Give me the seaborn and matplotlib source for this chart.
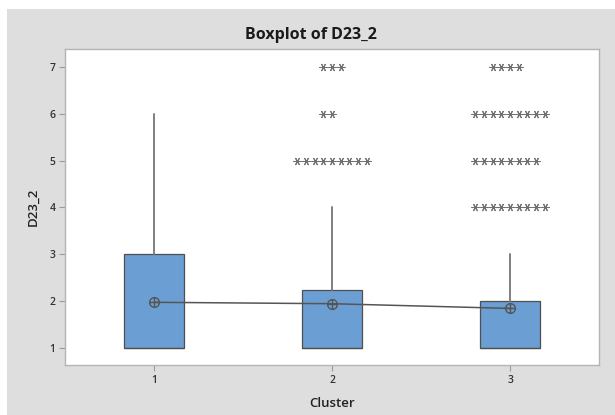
import numpy as np
import pandas as pd
import matplotlib
matplotlib.use("Agg")
import matplotlib.pyplot as plt
from matplotlib.patches import Rectangle
from matplotlib.path import Path
import seaborn as sns

# Summary statistics of D23_2 per cluster
clusters = ["1", "2", "3"]
q1 = [1, 1, 1]
medians = [1, 1, 1]
q3 = [3, 2.25, 2]
whisker_low = [1, 1, 1]
whisker_high = [6, 4, 3]
means = [1.98, 1.95, 1.85]

# Outlying responses: value and how many respondents gave it
outlier_values_2 = [5, 6, 7]
outlier_counts_2 = [9, 2, 3]
outlier_values_3 = [4, 5, 6, 7]
outlier_counts_3 = [9, 8, 9, 4]

outliers = pd.DataFrame({
    "Cluster": ["2"] * sum(outlier_counts_2) + ["3"] * sum(outlier_counts_3),
    "D23_2": np.concatenate([np.repeat(outlier_values_2, outlier_counts_2),
                             np.repeat(outlier_values_3, outlier_counts_3)]),
})

sns.set_theme(style="white")
plt.rcParams["font.family"] = ["Open Sans", "DejaVu Sans"]

W, H = 615, 415
fig = plt.figure(figsize=(W / 100, H / 100), dpi=100, facecolor="white")
# grey graph panel behind the data region
fig.patches.append(Rectangle((7 / W, 0), 1 - 7 / W, (H - 9) / H,
                             transform=fig.transFigure, facecolor="#dedede",
                             edgecolor="none", zorder=-5))

ax = fig.add_axes([65 / W, (H - 365) / H, (599 - 65) / W, (365 - 49) / H])
ax.set_facecolor("white")

box_color = "#6b9fd3"
edge_color = "#4f4f4f"
whisker_color = "#808080"

stats = [dict(q1=a, med=m, q3=b, whislo=lo, whishi=hi, label=c)
         for a, m, b, lo, hi, c in zip(q1, medians, q3, whisker_low, whisker_high, clusters)]
ax.bxp(stats, positions=range(len(clusters)), widths=0.34, patch_artist=True,
       showfliers=False, showcaps=False,
       boxprops=dict(facecolor=box_color, edgecolor=edge_color, linewidth=0.9),
       medianprops=dict(color=edge_color, linewidth=0.9),
       whiskerprops=dict(color=whisker_color, linewidth=1.4))

# outliers drawn as asterisks, ties packed side by side
sns.swarmplot(data=outliers, x="Cluster", y="D23_2", order=clusters,
              marker=(6, 2, 30), size=5.2, color="#707070", linewidth=0.75,
              ax=ax, zorder=4)

# mean symbols joined by a connect line
circle = Path.unit_circle()
cross = Path([[-1, 0], [1, 0], [0, -1], [0, 1]],
             [Path.MOVETO, Path.LINETO, Path.MOVETO, Path.LINETO])
oplus = Path.make_compound_path(circle, cross)
sns.pointplot(x=clusters, y=means, order=clusters, errorbar=None,
              color="#555555", marker=oplus, markersize=7,
              markerfacecolor="none", markeredgewidth=1.0, linewidth=1.1,
              ax=ax, zorder=5)

ax.set_xlim(-0.5, 2.5)
ax.set_ylim(0.644, 7.377)
ax.set_yticks([1, 2, 3, 4, 5, 6, 7])
ax.set_xticks(range(len(clusters)))
ax.set_xticklabels(clusters)

for s in ax.spines.values():
    s.set_color("#b4b4b4")
    s.set_linewidth(1.0)
ax.tick_params(axis="both", length=4, width=0.8, color="#9a9a9a",
               labelsize=7.5, labelcolor="#333333", pad=3, bottom=True, left=True)
for lbl in ax.get_xticklabels() + ax.get_yticklabels():
    lbl.set_fontweight("semibold")

ax.set_xlabel("Cluster", fontsize=9.5, fontweight="semibold", color="#222222", labelpad=8)
ax.set_ylabel("D23_2", fontsize=9.5, fontweight="semibold", color="#222222", labelpad=7)

fig.text((7 + W) / 2 / W, 1 - 35 / H, "Boxplot of D23_2", ha="center", va="center",
         fontsize=11.5, fontweight="bold", color="#1a1a1a")

fig.savefig("out.png", dpi=100, facecolor=fig.get_facecolor())
